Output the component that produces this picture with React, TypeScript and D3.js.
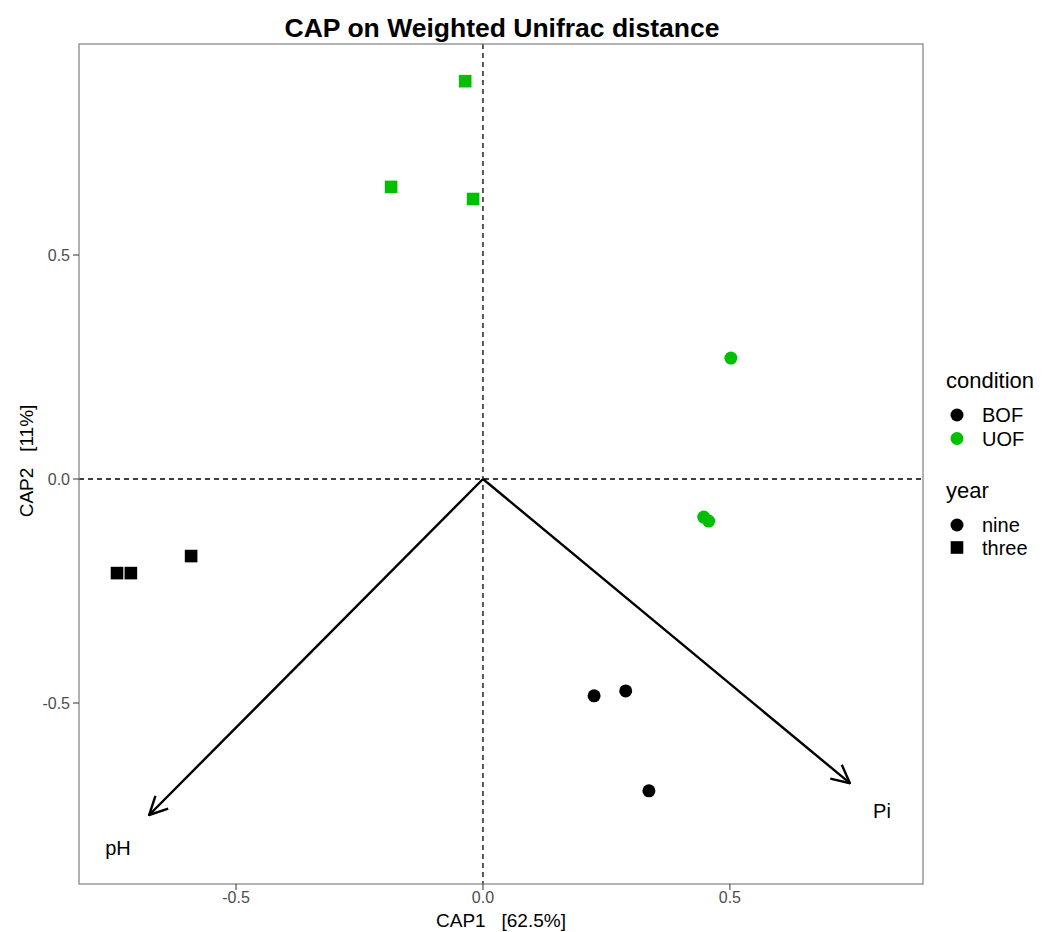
import React from 'react';
import * as d3 from 'd3';

// sample scores (CAP1, CAP2)
const sampleX = [-0.036, -0.186, -0.020, 0.502, 0.447, 0.457, -0.741, -0.713, -0.591, 0.225, 0.289, 0.336];
const sampleY = [0.888, 0.652, 0.625, 0.270, -0.085, -0.094, -0.210, -0.210, -0.172, -0.484, -0.473, -0.696];
const sampleCondition = ['UOF', 'UOF', 'UOF', 'UOF', 'UOF', 'UOF', 'BOF', 'BOF', 'BOF', 'BOF', 'BOF', 'BOF'];
const sampleYear = ['three', 'three', 'three', 'nine', 'nine', 'nine', 'three', 'three', 'three', 'nine', 'nine', 'nine'];

// environmental vectors
const envNames = ['pH', 'Pi'];
const envX = [-0.676, 0.743];
const envY = [-0.750, -0.679];
const envLabelX = [-0.739, 0.808];
const envLabelY = [-0.824, -0.740];

const xTicks = [-0.5, 0.0, 0.5];
const yTicks = [-0.5, 0.0, 0.5];

const conditions = ['BOF', 'UOF'];
const years = ['nine', 'three'];

const colorOf = d3.scaleOrdinal<string, string>().domain(conditions).range(['#000000', '#00c000']);

const W = 1057;
const H = 932;
const panel = { left: 79, right: 923, top: 44, bottom: 884 };
const font = 'Liberation Sans, Arial, Helvetica, sans-serif';
const fmt = (t: number) => d3.format('.1f')(t).replace('−', '-');

const App = () => {
  const x = d3.scaleLinear().domain([-0.818, 0.891]).range([panel.left, panel.right]);
  const y = d3.scaleLinear().domain([-0.904, 0.971]).range([panel.bottom, panel.top]);

  const symbol = (kind: string, cx: number, cy: number, fill: string, key: string | number) =>
    kind === 'three' ? (
      <rect key={key} x={cx - 6.3} y={cy - 6.3} width={12.6} height={12.6} fill={fill} />
    ) : (
      <circle key={key} cx={cx} cy={cy} r={6.5} fill={fill} />
    );

  return (
    <svg width={W} height={H} style={{ position: 'absolute', left: 0, top: 0, background: '#fff' }}
      fontFamily={font}>
      <defs>
        <marker id="arrowhead" viewBox="0 0 20 20" refX="19" refY="10" markerWidth="20" markerHeight="20"
          markerUnits="userSpaceOnUse" orient="auto">
          <path d="M1,1 L19,10 L1,19" fill="none" stroke="#000" strokeWidth={2.4} />
        </marker>
      </defs>
      <rect x={0} y={0} width={W} height={H} fill="#fff" />

      <text x={(panel.left + panel.right) / 2 + 1} y={37} textAnchor="middle" fontSize={26.5} fontWeight="bold">
        CAP on Weighted Unifrac distance
      </text>

      {/* zero lines */}
      <line x1={x(0)} x2={x(0)} y1={panel.top} y2={panel.bottom} stroke="#000" strokeDasharray="5,4" strokeWidth={1.3} />
      <line x1={panel.left} x2={panel.right} y1={y(0)} y2={y(0)} stroke="#000" strokeDasharray="5,4" strokeWidth={1.3} />

      {/* env arrows */}
      {envNames.map((n, i) => (
        <line key={n} x1={x(0)} y1={y(0)} x2={x(envX[i])} y2={y(envY[i])} stroke="#000" strokeWidth={2.4}
          markerEnd="url(#arrowhead)" />
      ))}
      {envNames.map((n, i) => (
        <text key={'l' + n} x={x(envLabelX[i])} y={y(envLabelY[i])} textAnchor="middle" dominantBaseline="central"
          fontSize={20} fill="#000">{n}</text>
      ))}

      {/* samples */}
      {sampleX.map((v, i) => symbol(sampleYear[i], x(v), y(sampleY[i]), colorOf(sampleCondition[i]), i))}

      {/* panel border */}
      <rect x={panel.left} y={panel.top} width={panel.right - panel.left} height={panel.bottom - panel.top}
        fill="none" stroke="#7f7f7f" strokeWidth={1.2} />

      {/* x axis */}
      {xTicks.map(t => (
        <g key={'x' + t}>
          <line x1={x(t)} x2={x(t)} y1={panel.bottom} y2={panel.bottom + 6} stroke="#333" />
          <text x={x(t)} y={903} textAnchor="middle" fontSize={16} fill="#4d4d4d">{fmt(t)}</text>
        </g>
      ))}
      {/* y axis */}
      {yTicks.map(t => (
        <g key={'y' + t}>
          <line x1={panel.left - 6} x2={panel.left} y1={y(t)} y2={y(t)} stroke="#333" />
          <text x={panel.left - 9} y={y(t)} textAnchor="end" dominantBaseline="central" fontSize={16} fill="#4d4d4d">
            {fmt(t)}
          </text>
        </g>
      ))}

      <text x={(panel.left + panel.right) / 2} y={927} textAnchor="middle" fontSize={19}
        style={{ whiteSpace: 'pre' }}>{'CAP1   [62.5%]'}</text>
      <text transform={`translate(33, ${(panel.top + panel.bottom) / 2 - 3}) rotate(-90)`} textAnchor="middle"
        fontSize={19} style={{ whiteSpace: 'pre' }}>
        {'CAP2   [11%]'}
      </text>

      {/* legends */}
      <text x={946} y={388} fontSize={22}>condition</text>
      {conditions.map((c, i) => (
        <g key={c}>
          <circle cx={957} cy={415 + i * 23.5} r={6.5} fill={colorOf(c)} />
          <text x={982} y={415 + i * 23.5} dominantBaseline="central" fontSize={20}>{c}</text>
        </g>
      ))}
      <text x={946} y={498} fontSize={22}>year</text>
      {years.map((yv, i) => (
        <g key={yv}>
          {symbol(yv, 957, 525 + i * 22.5, '#000', 'ly' + yv)}
          <text x={982} y={525 + i * 22.5} dominantBaseline="central" fontSize={20}>{yv}</text>
        </g>
      ))}
    </svg>
  );
};

export default App;
